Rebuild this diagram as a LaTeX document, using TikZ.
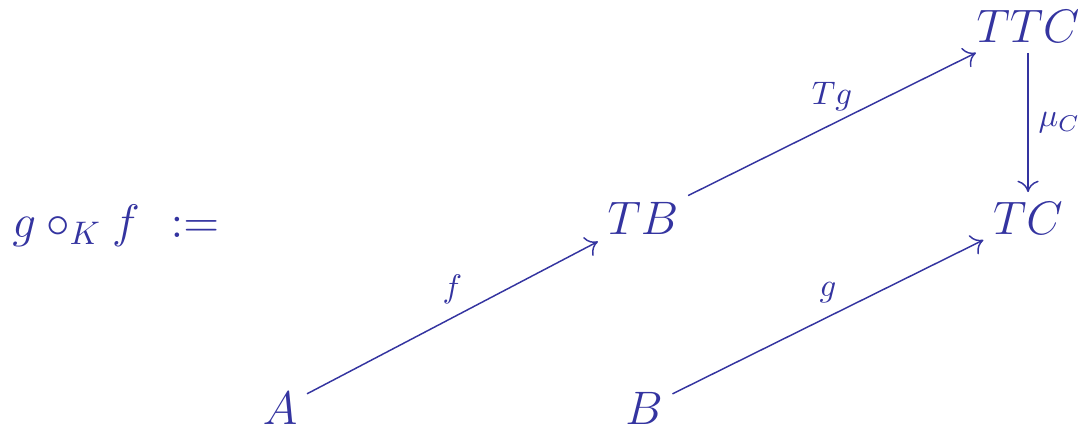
\documentclass[tikz,border=0pt]{standalone}
\usetikzlibrary{arrows.meta}
\definecolor{diagblue}{RGB}{52,52,160}

\begin{document}
\begin{tikzpicture}[x=1.077cm,y=1.077cm,
    obj/.style={text=diagblue,font=\Large,inner sep=1pt,outer sep=2pt,anchor=base},
    map/.style={draw=diagblue,line width=0.45pt,-{To[length=3.5pt,width=6.5pt]}},
    lbl/.style={text=diagblue,font=\Large,inner sep=2pt}]
  \useasboundingbox (0,0) rectangle (10.78,4.29);
  % left hand side
  \node[obj] (lhs) at (0.76,1.92) {$g\circ_K f$};
  \node[obj] (defeq) at (1.95,1.92) {$:=$};
  % objects of the diagram
  \node[obj] (A) at (2.80,0.05) {$A$};
  \node[obj] (B) at (6.44,0.05) {$B$};
  \node[obj] (TB) at (6.43,1.95) {$TB$};
  \node[obj] (TC) at (10.28,1.95) {$TC$};
  \node[obj] (TTC) at (10.28,3.86) {$TTC$};
  % arrows
  \draw[map] (A) -- node[lbl,midway,above=2pt] {$\scriptstyle f$} (TB);
  \draw[map] (B) -- node[lbl,midway,above=2pt] {$\scriptstyle g$} (TC);
  \draw[map] (TB) -- node[lbl,midway,above=2pt] {$\scriptstyle Tg$} (TTC);
  \draw[map] (TTC) -- node[lbl,midway,right=1pt] {$\scriptstyle \mu_C$} (TC);
\end{tikzpicture}
\end{document}
